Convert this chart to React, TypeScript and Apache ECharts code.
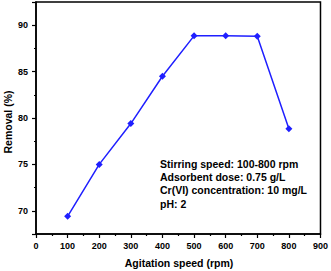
import React, { useEffect, useRef } from "react";
import * as echarts from "echarts";

const speeds = [100, 200, 300, 400, 500, 600, 700, 800];
const removal = [69.4, 75.0, 79.4, 84.5, 88.85, 88.85, 88.8, 78.85];
const notes = [
  "Stirring speed: 100-800 rpm",
  "Adsorbent dose: 0.75 g/L",
  "Cr(VI) concentration: 10 mg/L",
  "pH: 2",
];
const xTitle = "Agitation speed (rpm)";
const yTitle = "Removal (%)";

const FONT = "'Liberation Sans', Arial, sans-serif";

export default function App() {
  const ref = useRef<HTMLDivElement>(null);
  useEffect(() => {
    if (!ref.current) return;
    const chart = echarts.init(ref.current, null, { renderer: "svg" });
    chart.setOption({
      animation: false,
      backgroundColor: "#ffffff",
      grid: {
        left: 36,
        right: 9,
        top: 2,
        bottom: 37,
        show: true,
        borderColor: "#000",
        borderWidth: 1.5,
        containLabel: false,
      },
      xAxis: {
        type: "value",
        min: 0,
        max: 900,
        interval: 100,
        axisLine: { show: true, lineStyle: { color: "#000", width: 1.5 } },
        axisTick: { show: true, length: 4, lineStyle: { color: "#000", width: 1.2 } },
        minorTick: { show: true, splitNumber: 2, length: 2, lineStyle: { color: "#000", width: 1.2 } },
        splitLine: { show: false },
        axisLabel: { color: "#000", fontFamily: FONT, fontWeight: "bold", fontSize: 9, margin: 7.5 },
      },
      yAxis: {
        type: "value",
        min: 67.5,
        max: 92.5,
        splitNumber: 5,
        axisLine: { show: true, lineStyle: { color: "#000", width: 1.5 } },
        axisTick: { show: true, length: 4, lineStyle: { color: "#000", width: 1.2 } },
        minorTick: { show: true, splitNumber: 2, length: 2, lineStyle: { color: "#000", width: 1.2 } },
        splitLine: { show: false },
        axisLabel: {
          color: "#000",
          fontFamily: FONT,
          fontWeight: "bold",
          fontSize: 9,
          margin: 8,
          formatter: (v: number) => (Math.abs(v % 5) < 1e-6 ? String(v) : ""),
        },
      },
      series: [
        {
          type: "line",
          data: speeds.map((s, i) => [s, removal[i]]),
          symbol: "diamond",
          symbolSize: 7,
          lineStyle: { color: "#1f1fff", width: 1.5 },
          itemStyle: { color: "#1f1fff" },
        },
      ],
      graphic: [
        {
          type: "text",
          left: 160,
          top: 157,
          style: {
            text: notes.join("\n"),
            fontFamily: FONT,
            fontWeight: "bold",
            fontSize: 10.5,
            lineHeight: 13.3,
            fill: "#000",
          },
        },
        {
          type: "text",
          x: 179,
          y: 263,
          style: {
            text: xTitle,
            fontFamily: FONT,
            fontWeight: "bold",
            fontSize: 10.5,
            fill: "#000",
            align: "center",
            verticalAlign: "middle",
          },
        },
        {
          type: "text",
          x: 8,
          y: 122,
          rotation: Math.PI / 2,
          style: {
            text: yTitle,
            fontFamily: FONT,
            fontWeight: "bold",
            fontSize: 10.5,
            fill: "#000",
            align: "center",
            verticalAlign: "middle",
          },
        },
      ],
    });
    return () => chart.dispose();
  }, []);
  return <div ref={ref} style={{ width: 331, height: 271, position: "absolute", left: 0, top: 0 }} />;
}
